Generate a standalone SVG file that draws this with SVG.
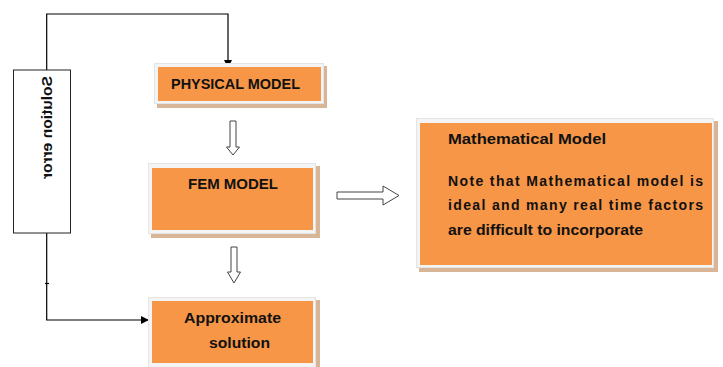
<svg xmlns="http://www.w3.org/2000/svg" width="723" height="367" viewBox="0 0 723 367">
<defs>
<style>
.sh{fill:#D8B596}
.fr{fill:#F4F4F4;stroke:#E4E4E4;stroke-width:1}
.or{fill:#F79646}
.t{font-family:"Liberation Sans",Arial,sans-serif;font-weight:bold;fill:#111;font-size:14px}
.c{fill:none;stroke:#000;stroke-width:1.2}
.blk{fill:#fff;stroke:#444;stroke-width:1}
.ahp{fill:#000;stroke:none}
</style>
<marker id="ah" markerWidth="8" markerHeight="8" refX="7" refY="4" markerUnits="userSpaceOnUse" orient="auto" overflow="visible">
<path class="ahp" d="M0,0 L8,4 L0,8 Z"/>
</marker>
</defs>
<rect width="723" height="367" fill="#fff"/>

<g id="connectors">
<path class="c" d="M46.7,70 V14 H228 V67" marker-end="url(#ah)"/>
<path class="c" d="M46.7,233 V320 H148" marker-end="url(#ah)"/>
<path class="c" d="M45,283.5 H49" stroke-width="1"/>
<path class="blk" d="M230,121 H236 V147 H239.5 L233,155 L226.5,147 H230 Z"/>
<path class="blk" d="M231,247 H237 V272 H240.5 L234,283 L227.5,272 H231 Z"/>
<path class="blk" d="M337,192 H383 V186 L399,195.5 L383,205 V199 H337 Z"/>
</g>

<g id="solution-error">
<rect x="13.5" y="70" width="57" height="163" fill="#fff" stroke="#222" stroke-width="1"/>
<text class="t" font-size="13" transform="matrix(0,1,1,0,52,76)" textLength="103" lengthAdjust="spacingAndGlyphs">Solution error</text>
</g>

<g id="physical-model">
<rect class="sh" x="157" y="66" width="170" height="42"/>
<rect class="fr" x="154.5" y="63.5" width="169" height="40"/>
<rect class="or" x="158" y="67" width="163" height="34"/>
<text class="t" x="171" y="89" textLength="129" lengthAdjust="spacingAndGlyphs">PHYSICAL MODEL</text>
</g>

<g id="fem-model">
<rect class="sh" x="151" y="166" width="169" height="72"/>
<rect class="fr" x="148.5" y="163.5" width="167" height="70"/>
<rect class="or" x="152" y="168" width="161" height="62"/>
<text class="t" x="188" y="189" textLength="90" lengthAdjust="spacingAndGlyphs">FEM MODEL</text>
</g>

<g id="approximate-solution">
<rect class="sh" x="151" y="300" width="169" height="70"/>
<rect class="fr" x="148.5" y="297.5" width="167" height="72"/>
<rect class="or" x="152" y="301" width="161" height="62"/>
<text class="t" x="184" y="323" textLength="97" lengthAdjust="spacingAndGlyphs">Approximate</text>
<text class="t" x="209" y="348" textLength="61" lengthAdjust="spacingAndGlyphs">solution</text>
</g>

<g id="mathematical-model">
<rect class="sh" x="419" y="121" width="299" height="151"/>
<rect class="fr" x="416.5" y="118.5" width="297" height="149"/>
<rect class="or" x="420" y="123" width="292" height="142"/>
<text class="t" x="448" y="144" textLength="158" lengthAdjust="spacingAndGlyphs">Mathematical Model</text>
<text class="t" x="448" y="186" textLength="255" lengthAdjust="spacing">Note that Mathematical model is</text>
<text class="t" x="448" y="210" textLength="255" lengthAdjust="spacing">ideal and many real time factors</text>
<text class="t" x="448" y="235" textLength="195" lengthAdjust="spacingAndGlyphs">are difficult to incorporate</text>
</g>
</svg>
